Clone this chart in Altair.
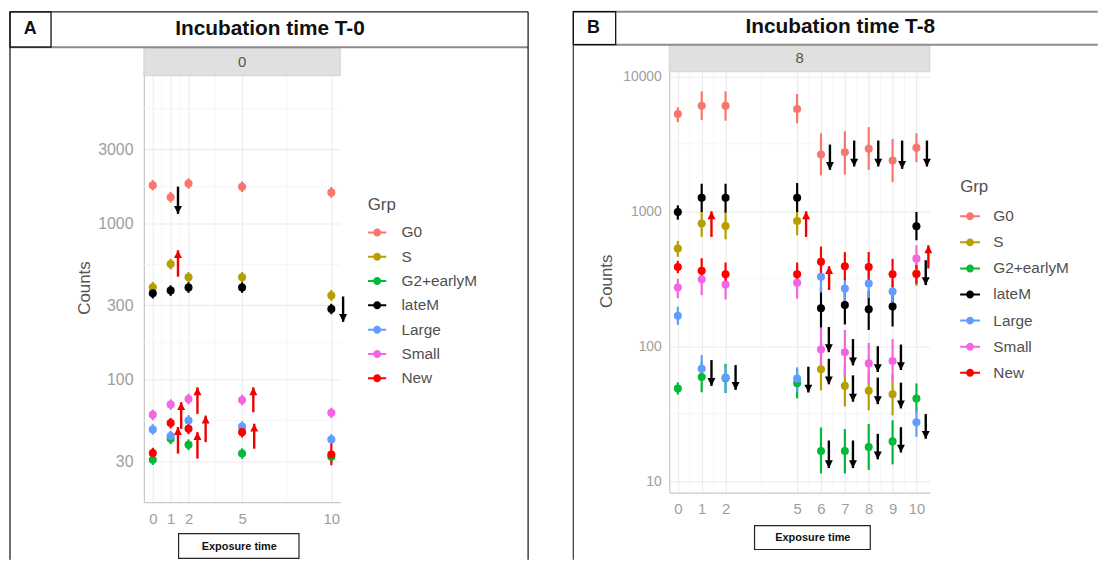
import altair as alt
import pandas as pd

GROUPS = ["G0", "S", "G2+earlyM", "lateM", "Large", "Small", "New"]
COLORS = ["#F8766D", "#B79F00", "#00BA38", "#000000", "#619CFF", "#F564E3", "#FF0000"]

# ---------------- Panel A : incubation time 0 ----------------
A_times = [0, 1, 2, 5, 10]
# (mean, lower, upper)
A_G0 = [(1770, 1640, 1910), (1480, 1370, 1600), (1815, 1680, 1960), (1730, 1600, 1870), (1590, 1470, 1720)]
A_S = [(392, 362, 424), (552, 510, 597), (454, 420, 490), (454, 420, 490), (347, 320, 376)]
A_G2 = [(30.7, 28.4, 33.2), (41.8, 38.6, 45.2), (38.3, 35.4, 41.4), (33.6, 31.1, 36.3), (32.0, 29.6, 34.6)]
A_lateM = [(359, 332, 388), (373, 345, 403), (390, 361, 421), (390, 361, 421), (284, 263, 307)]
A_Large = [(48.0, 44.4, 51.8), (43.5, 40.2, 47.0), (54.8, 50.7, 59.2), (50.1, 46.3, 54.1), (41.4, 38.3, 44.7)]
A_Small = [(59.5, 55.0, 64.3), (69.3, 64.1, 74.8), (75.3, 69.6, 81.3), (74.2, 68.6, 80.1), (61.3, 56.7, 66.2)]
A_New = [(33.9, 31.4, 36.6), (52.7, 48.7, 56.9), (48.4, 44.8, 52.3), (46.1, 42.6, 49.8), (33.1, 28.3, 38.9)]
# arrows: (x, from, to)
A_up = [(1.41, 458, 677), (1.59, 48.4, 71.7), (1.41, 33.6, 49.7), (2.50, 60.4, 89.4),
        (2.50, 31.2, 46.1), (2.96, 39.8, 58.9), (5.63, 61.9, 89.4), (5.68, 36.1, 52.2)]
A_down = [(1.41, 1731, 1158), (10.66, 342, 235)]
A_xticks = [0, 1, 2, 5, 10]
A_yticks = [30, 100, 300, 1000, 3000]
A_xminor = [0.5, 1.5, 3.5, 7.5]
A_yminor = [54.8, 173, 548, 1732, 5477]

# ---------------- Panel B : incubation time 8 ----------------
B_times = [0, 1, 2, 5, 6, 7, 8, 9, 10]
B_G0 = [(5270, 4571, 5900), (6070, 4755, 7748), (6070, 4700, 7748), (5735, 4494, 7405), (2636, 1845, 3792),
        (2744, 1877, 3923), (2904, 2030, 4200), (2383, 1647, 3442), (2954, 2314, 3792)]
B_S = [(530, 460, 604), (811, 646, 1000), (779, 620, 990), (848, 665, 1029), (67.4, 47, 94),
       (50.8, 35.8, 71.7), (46.7, 33.5, 65), (44.1, 30.7, 61.5), (346, 280, 416)]
B_G2 = [(48.6, 43.8, 54), (59.2, 45.5, 76), (58, 45, 74), (53.1, 41, 67), (16.7, 11.4, 25),
        (16.7, 11.4, 24.3), (17.9, 12.1, 26.5), (19.7, 13.3, 28.3), (41, 32.3, 53)]
B_lateM = [(989, 868, 1107), (1262, 989, 1601), (1262, 980, 1601), (1262, 989, 1620), (191, 133, 272),
           (202, 145, 257), (188, 132, 257), (197, 140, 272), (775, 610, 989)]
B_Large = [(168, 144, 196), (68.1, 54.5, 86), (58.5, 45, 73), (57.5, 45.6, 69.7), (327, 250, 392),
           (268, 216, 322), (292, 228, 362), (254, 202, 307), (27.3, 21.3, 33.8)]
B_Small = [(272, 227, 316), (313, 239, 387), (287, 222, 350), (295, 225, 366), (94.5, 63, 138),
           (90.3, 60, 132), (74.6, 53, 106), (77.6, 55, 113), (446, 346, 562)]
B_New = [(387, 348, 430), (362, 294, 449), (342, 283, 417), (342, 283, 417), (422, 327, 548),
         (392, 309, 498), (387, 298, 499), (342, 274, 444), (343, 290, 400)]
B_up = [(1.41, 646, 1000), (5.375, 646, 1000), (6.34, 261, 392), (10.5, 377, 559)]
B_down = [(6.375, 3126, 2030), (7.39, 3346, 2150), (8.4, 3346, 2150), (9.4, 3346, 2066), (10.44, 3346, 2150),
          (1.41, 78.9, 50.8), (2.42, 72.5, 47.5), (5.47, 70.5, 45.4),
          (6.33, 138.7, 90.3), (6.33, 80.7, 52.2), (6.33, 20.0, 12.5),
          (7.34, 113, 72.1), (7.34, 60.8, 38.8), (7.34, 20.0, 12.5),
          (8.38, 100, 64.4), (8.38, 58.5, 37.2), (8.38, 22.4, 14.5),
          (9.35, 102.9, 66.6), (9.35, 53.7, 34.6), (9.35, 25.1, 16.3),
          (10.39, 31.4, 20.6), (10.39, 434, 284)]
B_xticks = [0, 1, 2, 5, 6, 7, 8, 9, 10]
B_yticks = [10, 100, 1000, 10000]
B_xminor = [0.5, 1.5, 3.5, 5.5, 6.5, 7.5, 8.5, 9.5]
B_yminor = [31.6, 316, 3162]

FONT = "Liberation Sans"
RED = "#EE0000"
ONE = pd.DataFrame({"k": [0]})


def tidy(times, series):
    rows = []
    for g, vals in series:
        for t, (m, lo, hi) in zip(times, vals):
            rows.append({"Grp": g, "time": t, "mid": m, "lo": lo, "hi": hi})
    return pd.DataFrame(rows)


def arrows(lst):
    return pd.DataFrame(lst, columns=["x", "y_from", "y_to"])


def sym_path(r, t):
    return (f"M-1,{-t}L1,{-t}L1,{t}L-1,{t}Z "
            f"M{r},0A{r},{r},0,1,1,{-r},0A{r},{r},0,1,1,{r},0Z")


HEAD_DOWN = "M-1,-1L1,-1L0,1Z"
HEAD_UP = "M-1,1L1,1L0,-1Z"


def panel(df, up, down, o, W, H, xdom, ydom, xt, yt, xminor, yminor,
          leg, deco, xtitle_pos, ytitle_pos, ylab, canvas=False):
    ox, oy = o
    xs = alt.Scale(domain=xdom, nice=False, zero=False)
    ys = alt.Scale(type="log", domain=ydom, nice=False)
    cs = alt.Scale(domain=GROUPS, range=COLORS)
    # same mapping, listed in reverse order so that this (legend-less) scale is not merged with the legend
    ss = alt.Scale(domain=GROUPS[::-1], range=COLORS[::-1])
    xaxis = alt.Axis(values=xt, title="Exposure time", titleX=xtitle_pos[0] - ox,
                     titleY=xtitle_pos[1] - (oy + H), titleFont=FONT, titleFontSize=11,
                     titleFontWeight="bold", titleColor="#111111", titleBaseline="middle",
                     titleAlign="center", labelFont=FONT, labelFontSize=15, labelColor="#9e9e9e",
                     labelPadding=9, ticks=False, labelFlush=False, labelOverlap=False,
                     domainColor="#c8c8c8", domainWidth=1.2, gridColor="#ebebeb", gridWidth=1.1)
    yaxis = alt.Axis(values=yt, format="d", title="Counts", titleX=ytitle_pos[0] - ox,
                     titleY=ytitle_pos[1] - oy, titleAngle=270, titleFont=FONT, titleFontSize=17,
                     titleFontWeight="normal", titleColor="#555555", titleBaseline="middle",
                     titleAlign="center", labelFont=FONT, labelFontSize=ylab[0], labelColor="#9e9e9e",
                     labelPadding=ylab[1], ticks=False, labelOverlap=False, labelFlush=False,
                     domainColor="#c8c8c8", domainWidth=1.2, gridColor="#ebebeb", gridWidth=1.1)

    def X(f):
        return alt.X(f, type="quantitative", scale=xs, axis=xaxis)

    def Y(f):
        return alt.Y(f, type="quantitative", scale=ys, axis=yaxis)

    def hline(x1, x2, y, color, w):
        return alt.Chart(ONE).mark_rule(color=color, strokeWidth=w).encode(
            x=alt.value(x1 - ox), x2=alt.value(x2 - ox), y=alt.value(y - oy))

    def vline(x, y1, y2, color, w):
        return alt.Chart(ONE).mark_rule(color=color, strokeWidth=w).encode(
            x=alt.value(x - ox), y=alt.value(y1 - oy), y2=alt.value(y2 - oy))

    def box(x1, x2, y1, y2, fill, stroke, w):
        return alt.Chart(ONE).mark_rect(fill=fill, stroke=stroke, strokeWidth=w).encode(
            x=alt.value(x1 - ox), x2=alt.value(x2 - ox), y=alt.value(y1 - oy), y2=alt.value(y2 - oy))

    def label(x, y, text, size, weight, color):
        return alt.Chart(ONE).mark_text(text=text, font=FONT, fontSize=size, fontWeight=weight,
                                        color=color, align="center", baseline="middle").encode(
            x=alt.value(x - ox), y=alt.value(y - oy))

    layers = []
    if canvas:
        layers.append(box(8, 1107, 8, 563, "transparent", "transparent", 0))
    layers.append(alt.Chart(pd.DataFrame({"v": yminor})).mark_rule(color="#f4f4f4", strokeWidth=0.8)
                  .encode(y=Y("v")))
    layers.append(alt.Chart(pd.DataFrame({"v": xminor})).mark_rule(color="#f4f4f4", strokeWidth=0.8)
                  .encode(x=X("v")))
    layers.append(alt.Chart(df).mark_rule(strokeWidth=2.2).encode(
        x=X("time"), y=Y("lo"), y2=alt.Y2("hi"),
        stroke=alt.Stroke("Grp:N", scale=ss, legend=None)))
    legend = alt.Legend(orient="none", legendX=leg["x"] - ox, legendY=leg["y"] - oy, title="Grp",
                        titleFont=FONT, titleFontSize=17, titleFontWeight="normal",
                        titleColor="#505050", titlePadding=leg["tp"], labelFont=FONT,
                        labelFontSize=leg["fs"], labelColor="#505050", labelOffset=leg["lo"],
                        symbolType=sym_path(leg["r"], leg["t"]), symbolSize=leg["size"],
                        symbolStrokeWidth=0, symbolOpacity=1, rowPadding=leg["rp"])
    layers.append(alt.Chart(df).mark_circle(size=66, opacity=1).encode(
        x=X("time"), y=Y("mid"), color=alt.Color("Grp:N", scale=cs, legend=legend)))
    for lst, col, shape, off in ((up, RED, HEAD_UP, 3.9), (down, "#000000", HEAD_DOWN, -3.9)):
        adf = arrows(lst)
        layers.append(alt.Chart(adf).mark_rule(color=col, strokeWidth=2.4).encode(
            x=X("x"), y=Y("y_from"), y2=alt.Y2("y_to")))
        layers.append(alt.Chart(adf).mark_point(shape=shape, filled=True, size=64, color=col,
                                                opacity=1, strokeWidth=0, yOffset=off).encode(
            x=X("x"), y=Y("y_to")))
    # strip
    sx1, sx2, sy1, sy2 = deco["strip"]
    layers.append(box(sx1, sx2, sy1, sy2, "#e0e0e0", "#cdcdcd", 0.8))
    layers.append(label((sx1 + sx2) / 2, deco["strip_text_y"], deco["strip_text"], 15, "normal", "#555555"))
    # header / borders
    for (x1, x2, y, c, w) in deco["hlines"]:
        layers.append(hline(x1, x2, y, c, w))
    for (x, y1, y2, c, w) in deco["vlines"]:
        layers.append(vline(x, y1, y2, c, w))
    bx1, bx2, by1, by2 = deco["letter_box"]
    layers.append(box(bx1, bx2, by1, by2, "transparent", "#111111", 1.3))
    layers.append(label(deco["letter_pos"][0], deco["letter_pos"][1], deco["letter"], 18, "bold", "#111111"))
    layers.append(label(deco["title_pos"][0], deco["title_pos"][1], deco["title"], 21, "bold", "#111111"))
    ex1, ex2, ey1, ey2 = deco["exp_box"]
    layers.append(box(ex1, ex2, ey1, ey2, "transparent", "#222222", 1.2))
    return alt.layer(*layers).properties(width=W, height=H)


oA = (144.3, 70.0)
WA, HA = 198, 434
oB = (674.0, 70.0)
WB, HB = 262.7, 424.3

dfA = tidy(A_times, list(zip(GROUPS, [A_G0, A_S, A_G2, A_lateM, A_Large, A_Small, A_New])))
dfB = tidy(B_times, list(zip(GROUPS, [B_G0, B_S, B_G2, B_lateM, B_Large, B_Small, B_New])))

decoA = {
    "strip": (144.3, 342.3, 46.3, 74.0), "strip_text": "0", "strip_text_y": 60.5,
    "hlines": [(9.3, 531.7, 9.6, "#222222", 1.3), (9.3, 531.7, 45.2, "#8a8a8a", 2)],
    "vlines": [(9.3, 9.6, 562, "#222222", 1.3), (531.7, 9.6, 562, "#222222", 1.3)],
    "letter_box": (9.3, 50.7, 9.6, 45.2), "letter": "A", "letter_pos": (29.7, 27.3),
    "title": "Incubation time T-0", "title_pos": (271.5, 27.3),
    "exp_box": (179.3, 300.7, 535.7, 560.7),
}
decoB = {
    "strip": (674.0, 936.7, 43.7, 70.0), "strip_text": "8", "strip_text_y": 56.5,
    "hlines": [(577.3, 1106, 9.4, "#8c8c8c", 2), (577.3, 1106, 42.7, "#8c8c8c", 2)],
    "vlines": [(577.3, 9.4, 562, "#444444", 1.3)],
    "letter_box": (577.3, 620.0, 9.4, 42.7), "letter": "B", "letter_pos": (597.5, 25.5),
    "title": "Incubation time T-8", "title_pos": (846.5, 24.5),
    "exp_box": (760.0, 876.7, 527.7, 551.7),
}
legA = {"x": 370.0, "y": 196.0, "tp": 9.5, "rp": 6.5, "fs": 15.5, "lo": 15, "size": 336, "r": 0.44, "t": 0.11}
legB = {"x": 967.3, "y": 178.7, "tp": 10.0, "rp": 7.3, "fs": 15.5, "lo": 13.5, "size": 400, "r": 0.4, "t": 0.1}

chartA = panel(dfA, A_up, A_down, oA, WA, HA, [-0.5, 10.5], [16.38, 9447], A_xticks, A_yticks,
               A_xminor, A_yminor, legA, decoA, (240.0, 548.2), (84.5, 287.5), (16, 11), canvas=True)
chartB = panel(dfB, B_up, B_down, oB, WB, HB, [-0.36, 10.56], [8.22, 10830], B_xticks, B_yticks,
               B_xminor, B_yminor, legB, decoB, (818.3, 539.7), (610.4, 280.7), (14, 8))

chart = alt.hconcat(chartA, chartB, spacing=oB[0] - (oA[0] + WA), bounds="flush").resolve_scale(
    x="independent", y="independent", color="independent", stroke="independent").resolve_legend(
    color="independent", stroke="independent").resolve_axis(x="independent", y="independent").properties(
    padding=0).configure_view(stroke=None)

chart.save("out.html", embed_options={"renderer": "svg", "actions": False})
